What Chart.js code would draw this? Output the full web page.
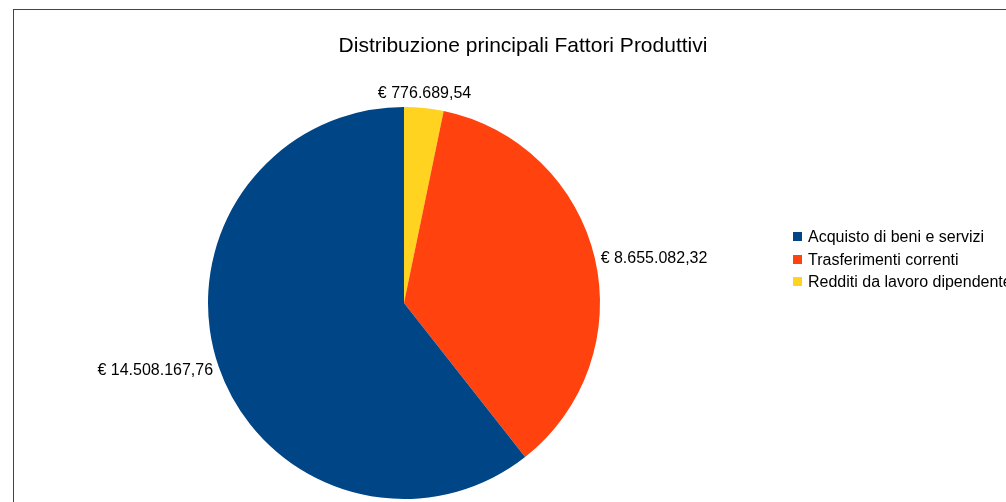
<!DOCTYPE html>
<html>
<head>
<meta charset="utf-8">
<script src="https://cdn.jsdelivr.net/npm/chart.js@4"></script>
<style>
  html, body { margin:0; padding:0; background:#fff; overflow:hidden; }
  body { width:1006px; height:502px; position:relative; font-family:"Liberation Sans", Arial, sans-serif; }
  #frame { position:absolute; left:13px; top:9px; width:1100px; height:600px; border:1px solid #444; box-sizing:border-box; }
  #wrap { position:absolute; left:0; top:0; width:1006px; height:502px; }
  #title { position:absolute; top:32px; left:300px; width:446px; text-align:center; font-size:21px; line-height:26px; color:#000; white-space:nowrap; }
  #legend { position:absolute; left:793px; top:226px; font-size:16px; color:#000; white-space:nowrap; }
  #legend div { height:22.5px; line-height:21px; }
  #legend span.box { display:inline-block; width:9px; height:9px; margin-right:6px; vertical-align:1px; }
</style>
</head>
<body>
<div id="frame"></div>
<div id="wrap"><canvas id="pie" width="1006" height="502"></canvas></div>
<div id="title">Distribuzione principali Fattori Produttivi</div>
<div id="legend"></div>
<script>
// data, in legend order
const categories = ['Acquisto di beni e servizi', 'Trasferimenti correnti', 'Redditi da lavoro dipendente'];
const values = [14508167.76, 8655082.32, 776689.54];
const colors = ['#004586', '#ff420e', '#ffd320'];

function euro(v){
  const parts = v.toFixed(2).split('.');
  return '€ ' + parts[0].replace(/\B(?=(\d{3})+(?!\d))/g, '.') + ',' + parts[1];
}

// legend (same order as the source)
(function(){
  const lg = document.getElementById('legend');
  categories.forEach((c,i)=>{
    const row = document.createElement('div');
    row.innerHTML = '<span class="box" style="background:'+colors[i]+'"></span>' + c;
    lg.appendChild(row);
  });
})();

// the original pie runs counter-clockwise from 12 o'clock, chart.js goes clockwise,
// so feed the slices in reverse
const order = values.map((v,i)=>i).reverse();

const outsideLabels = {
  id: 'outsideLabels',
  afterDatasetsDraw(chart){
    const ctx = chart.ctx;
    const meta = chart.getDatasetMeta(0);
    ctx.save();
    ctx.font = '16px "Liberation Sans", Arial, sans-serif';
    ctx.fillStyle = '#000';
    meta.data.forEach((arc, i)=>{
      const p = arc.getProps(['x','y','startAngle','endAngle','outerRadius'], true);
      const mid = (p.startAngle + p.endAngle) / 2;
      const dx = Math.cos(mid), dy = Math.sin(mid);
      const r = p.outerRadius + 6;
      const ax = p.x + dx * r, ay = p.y + dy * r;
      const txt = euro(chart.data.datasets[0].data[i]);
      ctx.textAlign = dx > 0.5 ? 'left' : (dx < -0.5 ? 'right' : 'center');
      if (dy < -0.5) { ctx.textBaseline = 'bottom'; ctx.fillText(txt, ax, ay); }
      else if (dy > 0.5) { ctx.textBaseline = 'top'; ctx.fillText(txt, ax, ay); }
      else { ctx.textBaseline = 'middle'; ctx.fillText(txt, ax, ay + 2); }
    });
    ctx.restore();
  }
};

new Chart(document.getElementById('pie').getContext('2d'), {
  type: 'pie',
  data: {
    labels: order.map(i=>categories[i]),
    datasets: [{
      data: order.map(i=>values[i]),
      backgroundColor: order.map(i=>colors[i]),
      borderWidth: 0
    }]
  },
  options: {
    responsive: false,
    animation: false,
    rotation: 0,
    layout: { padding: { left: 208, right: 406, top: 107, bottom: 3 } },
    plugins: { legend: { display:false }, title: { display:false }, tooltip: { enabled:false } }
  },
  plugins: [outsideLabels]
});
</script>
</body>
</html>
